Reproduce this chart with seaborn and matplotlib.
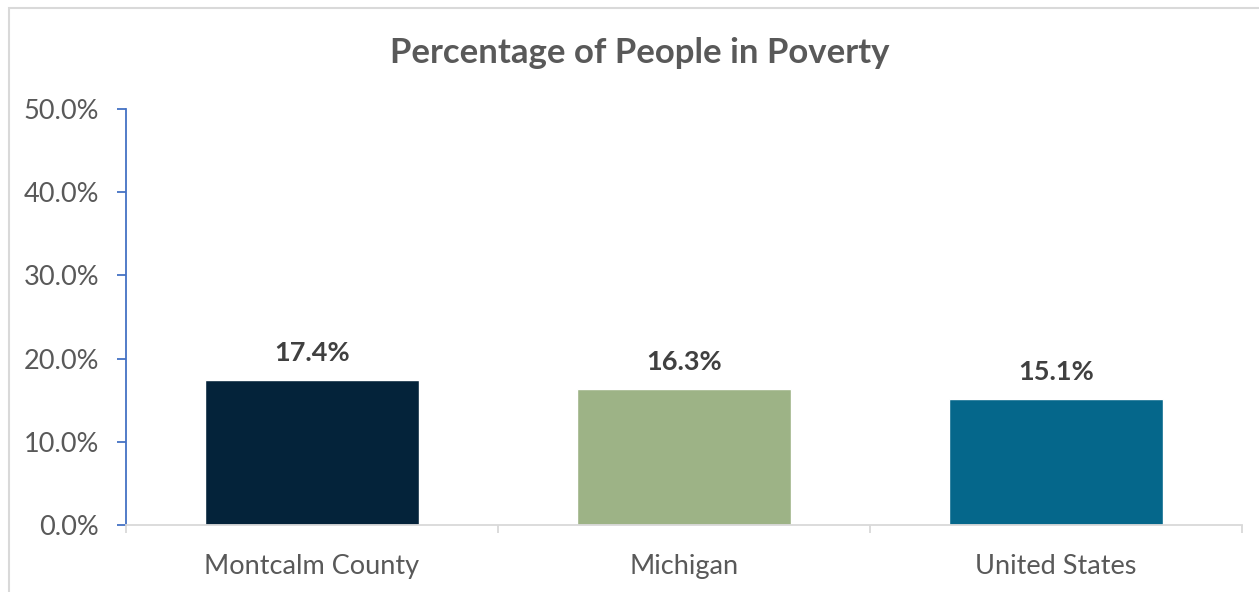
import matplotlib
matplotlib.use("Agg")
import matplotlib.pyplot as plt
import seaborn as sns
import pandas as pd
from matplotlib.patches import Rectangle
from matplotlib.ticker import FixedLocator, FuncFormatter

# Share of people below the poverty line
regions = ["Montcalm County", "Michigan", "United States"]
poverty_pct = [17.4, 16.3, 15.1]
bar_colors = ["#04233A", "#9DB386", "#05678B"]
y_ticks = [0, 10, 20, 30, 40, 50]

sns.set_theme(style="white")
plt.rcParams["font.family"] = ["Lato", "DejaVu Sans"]

text_grey = "#595959"
label_grey = "#404040"

df = pd.DataFrame({"region": regions, "pct": poverty_pct})

fig = plt.figure(figsize=(12.59, 5.92), dpi=100)
ax = fig.add_axes([0.1001, 0.1132, 0.8864, 0.7027])

sns.barplot(data=df, x="region", y="pct", hue="region", palette=bar_colors,
            width=0.573, legend=False, saturation=1, ax=ax)

ax.set_xlim(-0.5, len(regions) - 0.5)
ax.set_ylim(0, 50)
ax.yaxis.set_major_locator(FixedLocator(y_ticks))
ax.yaxis.set_major_formatter(FuncFormatter(lambda v, _: f"{v:.1f}%"))
ax.set_xlabel("")
ax.set_ylabel("")

# Value labels above each bar
for i, v in enumerate(poverty_pct):
    ax.annotate(f"{v:.1f}%", xy=(i, v), xytext=(0, 11), textcoords="offset points",
                ha="center", va="bottom", fontsize=19.5, fontweight="bold",
                color=label_grey)

# Axis styling
for side in ["top", "right"]:
    ax.spines[side].set_visible(False)
ax.spines["left"].set_color("#4472C4")
ax.spines["left"].set_linewidth(1.3)
ax.spines["bottom"].set_color("#D9D9D9")
ax.spines["bottom"].set_linewidth(1.3)

ax.tick_params(axis="y", which="major", left=True, length=6.5, width=1.3,
               color="#4472C4", labelsize=19.5, labelcolor=text_grey, pad=13)
ax.tick_params(axis="x", which="major", bottom=False, labelsize=19.5,
               labelcolor=text_grey, pad=15)

# Category boundary ticks on the x axis
ax.set_xticks([-0.5, 0.5, 1.5, 2.5], minor=True)
ax.tick_params(axis="x", which="minor", bottom=True, length=6, width=1.3,
               color="#D9D9D9")

fig.suptitle("Percentage of People in Poverty", x=0.508, y=0.910, va="center",
             fontsize=25, fontweight="bold", color=text_grey)

# Chart area frame
fig.patches.append(Rectangle((9 / 1259, -0.1), 1.2, 1 - 8 / 592 + 0.1,
                             transform=fig.transFigure, fill=False,
                             edgecolor="#D9D9D9", linewidth=1.5))

fig.savefig("out.png", dpi=100, facecolor="white")
